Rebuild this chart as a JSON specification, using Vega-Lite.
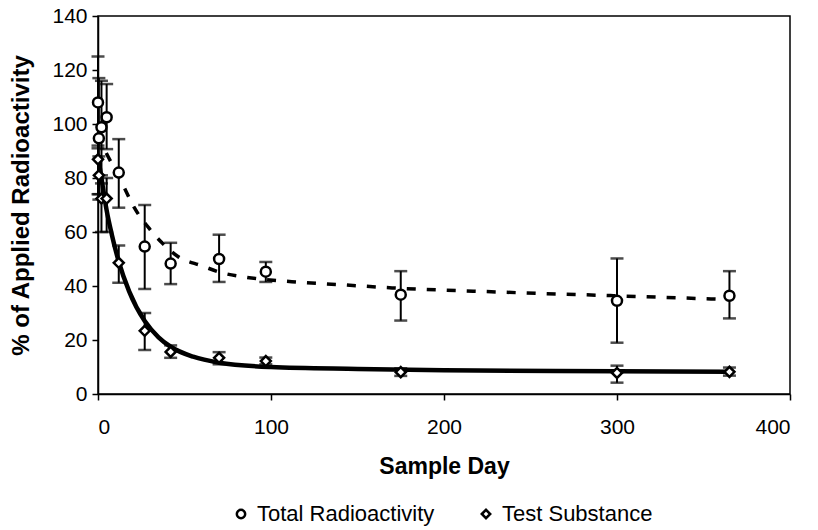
{
  "$schema": "https://vega.github.io/schema/vega-lite/v6.json",
  "autosize": {"type": "none"},
  "width": 692,
  "height": 378,
  "padding": {"left": 98, "top": 16, "right": 28, "bottom": 136},
  "background": "white",
  "config": {
    "font": "Liberation Sans",
    "view": {"stroke": "black", "strokeWidth": 1.5},
    "axis": {
      "grid": false,
      "domainColor": "black",
      "domainWidth": 1.5,
      "tickColor": "black",
      "tickWidth": 1.5,
      "tickSize": 6,
      "labelFont": "Liberation Sans",
      "labelFontSize": 21,
      "labelColor": "black",
      "titleFont": "Liberation Sans",
      "titleFontWeight": "bold",
      "titleColor": "black"
    }
  },
  "datasets": {
    "points": [
      {"day": 0, "value": 108, "lo": 91, "hi": 125, "series": "Total Radioactivity"},
      {"day": 0.5, "value": 94.7, "lo": 72, "hi": 117, "series": "Total Radioactivity"},
      {"day": 2, "value": 98.8, "lo": 81, "hi": 116, "series": "Total Radioactivity"},
      {"day": 5, "value": 102.5, "lo": 90.7, "hi": 114.8, "series": "Total Radioactivity"},
      {"day": 12, "value": 82, "lo": 69, "hi": 94.4, "series": "Total Radioactivity"},
      {"day": 27, "value": 54.6, "lo": 38.9, "hi": 70, "series": "Total Radioactivity"},
      {"day": 42, "value": 48.3, "lo": 40.7, "hi": 56, "series": "Total Radioactivity"},
      {"day": 70, "value": 50, "lo": 41.5, "hi": 59, "series": "Total Radioactivity"},
      {"day": 97, "value": 45.3, "lo": 41.5, "hi": 48.9, "series": "Total Radioactivity"},
      {"day": 175, "value": 36.8, "lo": 27.2, "hi": 45.5, "series": "Total Radioactivity"},
      {"day": 300, "value": 34.5, "lo": 19, "hi": 50.2, "series": "Total Radioactivity"},
      {"day": 365, "value": 36.4, "lo": 28, "hi": 45.5, "series": "Total Radioactivity"},
      {"day": 0, "value": 86.9, "lo": 74, "hi": 92, "series": "Test Substance"},
      {"day": 0.5, "value": 81, "lo": 74, "hi": 88, "series": "Test Substance"},
      {"day": 2, "value": 72.4, "lo": 60, "hi": 78, "series": "Test Substance"},
      {"day": 5, "value": 72.4, "lo": 60, "hi": 80, "series": "Test Substance"},
      {"day": 12, "value": 48.6, "lo": 41.2, "hi": 55, "series": "Test Substance"},
      {"day": 27, "value": 23.4, "lo": 16.3, "hi": 30, "series": "Test Substance"},
      {"day": 42, "value": 15.6, "lo": 13.4, "hi": 18, "series": "Test Substance"},
      {"day": 70, "value": 13.4, "lo": 11, "hi": 15.5, "series": "Test Substance"},
      {"day": 97, "value": 12.2, "lo": 11, "hi": 13.5, "series": "Test Substance"},
      {"day": 175, "value": 8.1, "lo": 6.7, "hi": 9.5, "series": "Test Substance"},
      {"day": 300, "value": 7.8, "lo": 4.2, "hi": 10.5, "series": "Test Substance"},
      {"day": 365, "value": 8.2, "lo": 6.8, "hi": 9.8, "series": "Test Substance"}
    ],
    "solidfit": [
      {"day": 0, "value": 88}, {"day": 2, "value": 80}, {"day": 5, "value": 68},
      {"day": 8, "value": 59}, {"day": 12, "value": 49}, {"day": 18, "value": 38},
      {"day": 27, "value": 27}, {"day": 35, "value": 21}, {"day": 42, "value": 17.5},
      {"day": 55, "value": 13.8}, {"day": 70, "value": 11.6}, {"day": 100, "value": 10},
      {"day": 150, "value": 9.3}, {"day": 200, "value": 8.8}, {"day": 300, "value": 8.4},
      {"day": 365, "value": 8.2}
    ],
    "dashfit": [
      {"day": 0, "value": 96}, {"day": 5, "value": 89}, {"day": 10, "value": 83},
      {"day": 14, "value": 78}, {"day": 21, "value": 69}, {"day": 30, "value": 61},
      {"day": 37, "value": 56}, {"day": 46, "value": 51}, {"day": 60, "value": 47.5},
      {"day": 71, "value": 45}, {"day": 85, "value": 43.3}, {"day": 112, "value": 41.6},
      {"day": 140, "value": 40.5}, {"day": 170, "value": 39.3}, {"day": 230, "value": 37.8},
      {"day": 298, "value": 36.4}, {"day": 365, "value": 35}
    ]
  },
  "layer": [
    {
      "data": {"name": "dashfit"},
      "mark": {"type": "line", "color": "black", "strokeWidth": 3.5, "strokeDash": [9, 11], "interpolate": "monotone"},
      "encoding": {
        "x": {"field": "day", "type": "quantitative", "scale": {"domain": [0, 400]}, "axis": {"values": [0, 100, 200, 300, 400], "title": "Sample Day", "titleFontSize": 23, "labelPadding": 16, "titlePadding": 18}},
        "y": {"field": "value", "type": "quantitative", "scale": {"domain": [0, 140]}, "axis": {"values": [0, 20, 40, 60, 80, 100, 120, 140], "title": "% of Applied Radioactivity", "titleFontSize": 24, "labelPadding": 5, "titlePadding": 18}}
      }
    },
    {
      "data": {"name": "solidfit"},
      "mark": {"type": "line", "color": "black", "strokeWidth": 4.5, "interpolate": "monotone"},
      "encoding": {
        "x": {"field": "day", "type": "quantitative"},
        "y": {"field": "value", "type": "quantitative"}
      }
    },
    {
      "data": {"name": "points"},
      "mark": {"type": "rule", "color": "black", "strokeWidth": 2},
      "encoding": {
        "x": {"field": "day", "type": "quantitative"},
        "y": {"field": "lo", "type": "quantitative"},
        "y2": {"field": "hi"}
      }
    },
    {
      "data": {"name": "points"},
      "mark": {"type": "tick", "color": "black", "orient": "horizontal", "size": 13, "thickness": 2.5},
      "encoding": {
        "x": {"field": "day", "type": "quantitative"},
        "y": {"field": "lo", "type": "quantitative"}
      }
    },
    {
      "data": {"name": "points"},
      "mark": {"type": "tick", "color": "black", "orient": "horizontal", "size": 13, "thickness": 2.5},
      "encoding": {
        "x": {"field": "day", "type": "quantitative"},
        "y": {"field": "hi", "type": "quantitative"}
      }
    },
    {
      "data": {"name": "points"},
      "mark": {"type": "point", "filled": true, "color": "white", "stroke": "black", "strokeWidth": 2.5, "opacity": 1, "size": 100},
      "encoding": {
        "x": {"field": "day", "type": "quantitative"},
        "y": {"field": "value", "type": "quantitative"},
        "shape": {
          "field": "series", "type": "nominal",
          "scale": {"domain": ["Total Radioactivity", "Test Substance"], "range": ["circle", "diamond"]},
          "legend": {
            "title": null, "orient": "none", "direction": "horizontal",
            "legendX": 132, "legendY": 487,
            "labelFont": "Liberation Sans", "labelFontSize": 22, "labelColor": "black", "labelLimit": 0,
            "symbolSize": 70, "symbolStrokeWidth": 2.5,
            "columnPadding": 40, "labelOffset": 5
          }
        }
      }
    }
  ]
}
